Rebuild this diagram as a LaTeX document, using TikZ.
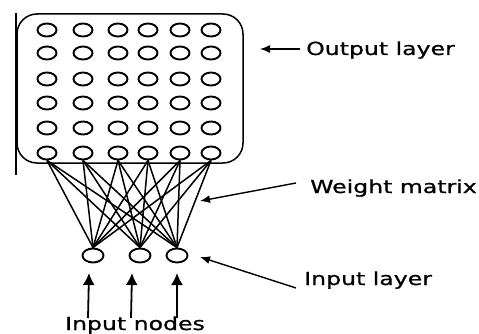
\documentclass[tikz,border=0pt]{standalone}
\usepackage{fontspec}
\setmainfont{DejaVu Sans}
\newfontfamily\lblfont[FakeBold=0.8]{DejaVu Sans}
\usetikzlibrary{shapes.geometric,arrows.meta}

\begin{document}
\begin{tikzpicture}[x=1pt,y=-1pt,line width=1.9pt,
  unit/.style={draw,ellipse,inner sep=0pt,minimum width=19pt,minimum height=13pt},
  inunit/.style={draw,ellipse,inner sep=0pt,minimum width=21pt,minimum height=14pt},
  lbl/.style={anchor=base west,inner sep=0pt,xscale=1.31,font=\lblfont\fontsize{18}{21}\selectfont},
  pointer/.style={-{Latex[length=10pt,width=8pt]},line width=1.4pt},
  feed/.style={-{Latex[length=12pt,width=12pt]},line width=1.8pt}]
  \useasboundingbox (0,0) rectangle (479,334);

  % Output layer: box with a 6x6 grid of units
  \draw (16,13) -- (16,175);
  \node[draw,line width=1.5pt,rounded corners=20pt,inner sep=0pt,minimum width=226pt,
        minimum height=149pt] (box) at (130,88.5) {};
  \foreach \r/\y in {1/30,2/53,3/79,4/103,5/128,6/153}
    \foreach \c/\x in {1/47,2/83,3/118,4/148,5/180,6/211}
      \node[unit] (o-\r-\c) at (\x,\y) {};

  % Input layer
  \foreach \i/\x in {1/93,2/140,3/177}
    \node[inunit] (in-\i) at (\x,255.5) {};

  % Weight matrix: every input to every unit of the bottom row
  \foreach \c in {1,...,6}
    \foreach \i in {1,2,3}
      \draw[line width=1.5pt] (o-6-\c.south) -- (in-\i.north);

  % Labels
  \node[lbl] (lbl-out) at (305,55) {Output layer};
  \node[lbl] (lbl-wm) at (309,193) {Weight matrix};
  \node[lbl] (lbl-il) at (303,285) {Input layer};
  \node[lbl,anchor=base] (lbl-in) at (135,330) {Input nodes};

  % Pointers from the labels
  \coordinate (out-tail) at (300,49);
  \coordinate (out-tip) at (260,49);
  \coordinate (wm-tail) at (296,183);
  \coordinate (wm-tip) at (200,201);
  \coordinate (il-tail) at (296,288);
  \coordinate (il-tip) at (200,257);
  \draw[pointer] (out-tail) -- (out-tip);
  \draw[pointer] (wm-tail) -- (wm-tip);
  \draw[pointer] (il-tail) -- (il-tip);

  % Arrows feeding the input units
  \foreach \i/\x/\t in {1/88/89,2/131/132,3/177/177} {
    \coordinate (tail-\i) at (\x,318);
    \coordinate (head-\i) at (\t,273);
    \draw[feed] (tail-\i) -- (head-\i);
  }
\end{tikzpicture}
\end{document}
